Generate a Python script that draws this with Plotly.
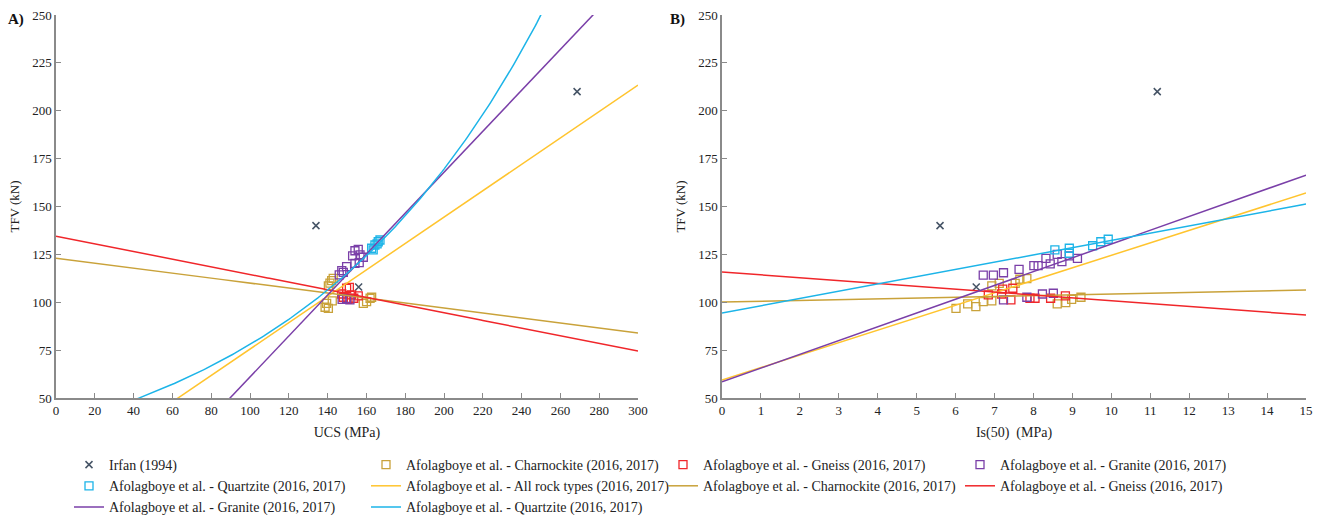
import numpy as np
import plotly.graph_objects as go

# ---------------- data ----------------
# Irfan (1994)
ucs_irf = [134.0, 156.0, 268.6]
is_irf = [5.6, 6.53, 11.18]
tfv_irf = [140.0, 108.0, 210.0]

# Afolagboye et al. - Charnockite
ucs_ch = [138.7, 139.5, 140.4, 142.4, 140.4, 141.2, 142.1, 142.9, 158.4, 160.1, 161.9, 162.7]
tfv_ch_a = [97.4, 99.4, 96.8, 100.7, 108.5, 110.0, 111.3, 112.5, 99.4, 100.3, 102.1, 102.6]
is_ch = [6.01, 6.31, 6.52, 6.71, 6.93, 6.93, 7.12, 7.53, 7.65, 7.83, 8.61, 8.83, 8.98, 9.22]
tfv_ch_b = [96.8, 99.1, 97.7, 100.3, 100.7, 108.6, 109.9, 109.9, 112.0, 112.3, 99.1, 99.8, 101.5, 102.6]

# Afolagboye et al. - Gneiss
ucs_gn = [149.8, 151.2, 147.3, 152.4, 155.8, 148.1, 150.5, 153.5]
tfv_gn_a = [107.3, 107.8, 104.3, 103.8, 103.3, 102.6, 101.5, 102.1]
is_gn = [6.84, 7.18, 7.21, 7.42, 7.47, 7.91, 8.04, 8.44, 8.82]
tfv_gn_b = [103.8, 104.3, 106.9, 101.2, 107.3, 102.1, 102.1, 102.1, 103.3]

# Afolagboye et al. - Granite
ucs_gr = [154.1, 155.8, 152.9, 156.7, 158.4, 156.3, 154.1, 149.8, 147.3, 146.0, 148.1, 149.8, 151.5, 147.5]
tfv_gr_a = [126.9, 127.6, 124.2, 124.7, 123.5, 120.7, 120.3, 118.6, 116.5, 114.3, 115.6, 102.0, 101.2, 101.5]
is_gr = [6.71, 6.97, 7.23, 7.63, 8.01, 8.12, 8.32, 8.43, 8.61, 8.73, 8.92, 9.13, 7.23, 7.83, 8.23, 8.51]
tfv_gr_b = [114.2, 114.2, 115.4, 117.2, 119.1, 119.1, 122.9, 120.0, 125.0, 121.2, 124.2, 122.9, 101.2, 102.6, 104.3, 104.7]

# Afolagboye et al. - Quartzite
ucs_qz = [162.7, 164.4, 166.1, 167.0, 165.5, 163.5]
tfv_qz_a = [128.2, 129.9, 131.6, 132.5, 130.5, 127.3]
is_qz = [8.55, 8.92, 8.92, 9.52, 9.73, 9.92]
tfv_qz_b = [127.3, 128.2, 125.6, 129.5, 131.6, 132.9]

# Trend line coefficients (TFV vs UCS): linear (slope, intercept), quartzite exponential (a, b)
fitA_all = (0.689, 6.66)
fitA_ch = (-0.130, 123.0)
fitA_gn = (-0.200, 134.5)
fitA_gr = (1.069, -45.9)
fitA_qz_exp = (35.86, 0.007767)
# Trend line coefficients (TFV vs Is50): linear (slope, intercept)
fitB_all = (6.51, 59.4)
fitB_ch = (0.42, 100.1)
fitB_gn = (-1.50, 115.8)
fitB_gr = (7.20, 58.4)
fitB_qz = (3.79, 94.4)

ucs_range = (0, 300)
is_range = (0, 15)
y_ticks = [50, 75, 100, 125, 150, 175, 200, 225, 250]

names = {
    "irf": "Irfan (1994)",
    "ch": "Afolagboye et al. - Charnockite (2016, 2017)",
    "gn": "Afolagboye et al. - Gneiss (2016, 2017)",
    "gr": "Afolagboye et al. - Granite (2016, 2017)",
    "qz": "Afolagboye et al. - Quartzite (2016, 2017)",
    "all": "Afolagboye et al. - All rock types (2016, 2017)",
}

# ---------------- style ----------------
C_IRF = "#465466"
C_CH = "#C9A23A"
C_GN = "#F0262A"
C_GR = "#7A3FA8"
C_QZ = "#1CB4E8"
C_ALL = "#FFC42E"
FONT = "Liberation Serif, Times New Roman, DejaVu Serif, serif"
AX_COL = "#8a8a8a"

W, H = 1328, 515
fig = go.Figure()

def sq(x, y, col, name, xa, ya, show, grp):
    fig.add_trace(go.Scatter(
        x=x, y=y, mode="markers", name=name, legendgroup=grp, showlegend=show,
        xaxis=xa, yaxis=ya,
        marker=dict(symbol="square-open", size=8, color=col, line=dict(width=1.3, color=col)),
    ))

def ln(x, y, col, name, xa, ya, show, grp):
    fig.add_trace(go.Scatter(
        x=x, y=y, mode="lines", name=name, legendgroup=grp, showlegend=show,
        xaxis=xa, yaxis=ya, line=dict(color=col, width=1.5),
    ))

xa_line = np.linspace(ucs_range[0], ucs_range[1], 301)
xb_line = np.linspace(is_range[0], is_range[1], 151)

def lin(fit, xs):
    return fit[0] * xs + fit[1]

# --- markers (legend entries from panel A) ---
for xa, ya, X, show in (("x", "y", ucs_irf, True), ("x2", "y2", is_irf, False)):
    fig.add_trace(go.Scatter(
        x=X, y=tfv_irf, mode="markers", name=names["irf"], legendgroup="irf", showlegend=show,
        xaxis=xa, yaxis=ya,
        marker=dict(symbol="x-thin-open", size=7, color=C_IRF, line=dict(width=1.5, color=C_IRF)),
    ))
sq(ucs_ch, tfv_ch_a, C_CH, names["ch"], "x", "y", True, "ch")
sq(ucs_gn, tfv_gn_a, C_GN, names["gn"], "x", "y", True, "gn")
sq(ucs_gr, tfv_gr_a, C_GR, names["gr"], "x", "y", True, "gr")
sq(ucs_qz, tfv_qz_a, C_QZ, names["qz"], "x", "y", True, "qz")
sq(is_ch, tfv_ch_b, C_CH, names["ch"], "x2", "y2", False, "ch")
sq(is_gn, tfv_gn_b, C_GN, names["gn"], "x2", "y2", False, "gn")
sq(is_gr, tfv_gr_b, C_GR, names["gr"], "x2", "y2", False, "gr")
sq(is_qz, tfv_qz_b, C_QZ, names["qz"], "x2", "y2", False, "qz")

# --- trend lines ---
ln(xa_line, lin(fitA_all, xa_line), C_ALL, names["all"], "x", "y", True, "l_all")
ln(xa_line, lin(fitA_ch, xa_line), C_CH, names["ch"], "x", "y", True, "l_ch")
ln(xa_line, lin(fitA_gn, xa_line), C_GN, names["gn"], "x", "y", True, "l_gn")
ln(xa_line, lin(fitA_gr, xa_line), C_GR, names["gr"], "x", "y", True, "l_gr")
ln(xa_line, fitA_qz_exp[0] * np.exp(fitA_qz_exp[1] * xa_line), C_QZ, names["qz"], "x", "y", True, "l_qz")

ln(xb_line, lin(fitB_all, xb_line), C_ALL, names["all"], "x2", "y2", False, "l_all")
ln(xb_line, lin(fitB_ch, xb_line), C_CH, names["ch"], "x2", "y2", False, "l_ch")
ln(xb_line, lin(fitB_gn, xb_line), C_GN, names["gn"], "x2", "y2", False, "l_gn")
ln(xb_line, lin(fitB_gr, xb_line), C_GR, names["gr"], "x2", "y2", False, "l_gr")
ln(xb_line, lin(fitB_qz, xb_line), C_QZ, names["qz"], "x2", "y2", False, "l_qz")

# ---------------- layout ----------------
ydom = [1 - 398 / H, 1 - 15 / H]
axis_common = dict(
    showgrid=False, zeroline=False, showline=True, linecolor=AX_COL, linewidth=1.5,
    ticks="inside", ticklen=5, tickcolor=AX_COL, tickwidth=1.2,
    tickfont=dict(family=FONT, size=13, color="#222"), automargin=False,
)
fig.update_layout(
    width=W, height=H, margin=dict(l=0, r=0, t=0, b=0, autoexpand=False),
    paper_bgcolor="white", plot_bgcolor="white",
    font=dict(family=FONT, size=14, color="#222"),
    xaxis=dict(domain=[56 / W, 638 / W], range=list(ucs_range), dtick=20, tick0=0, anchor="y",
               title=dict(text="UCS (MPa)", font=dict(family=FONT, size=14, color="#222"), standoff=10),
               **axis_common),
    yaxis=dict(domain=ydom, range=[50, 250], tickvals=y_ticks, anchor="x",
               title=dict(text="TFV (kN)", font=dict(family=FONT, size=13, color="#222"), standoff=10),
               **axis_common),
    xaxis2=dict(domain=[722 / W, 1306 / W], range=list(is_range), dtick=1, tick0=0, anchor="y2",
                title=dict(text="Is(50)\u00a0 (MPa)", font=dict(family=FONT, size=14, color="#222"), standoff=10),
                **axis_common),
    yaxis2=dict(domain=ydom, range=[50, 250], tickvals=y_ticks, anchor="x2",
                title=dict(text="TFV (kN)", font=dict(family=FONT, size=13, color="#222"), standoff=10),
                **axis_common),
    legend=dict(orientation="h", xref="container", yref="container",
                x=69 / W, xanchor="left", y=1 - 449 / H, yanchor="top",
                entrywidth=252, entrywidthmode="pixels", traceorder="normal",
                font=dict(family=FONT, size=14, color="#222"), bgcolor="rgba(0,0,0,0)",
                borderwidth=0, itemwidth=30, tracegroupgap=0),
    showlegend=True,
    annotations=[
        dict(text="<b>A)</b>", x=6 / W, y=1 - 19 / H, xref="paper", yref="paper",
             xanchor="left", yanchor="middle", showarrow=False,
             font=dict(family=FONT, size=15, color="#111")),
        dict(text="<b>B)</b>", x=668 / W, y=1 - 19 / H, xref="paper", yref="paper",
             xanchor="left", yanchor="middle", showarrow=False,
             font=dict(family=FONT, size=15, color="#111")),
    ],
)

fig.write_html("out.html")
